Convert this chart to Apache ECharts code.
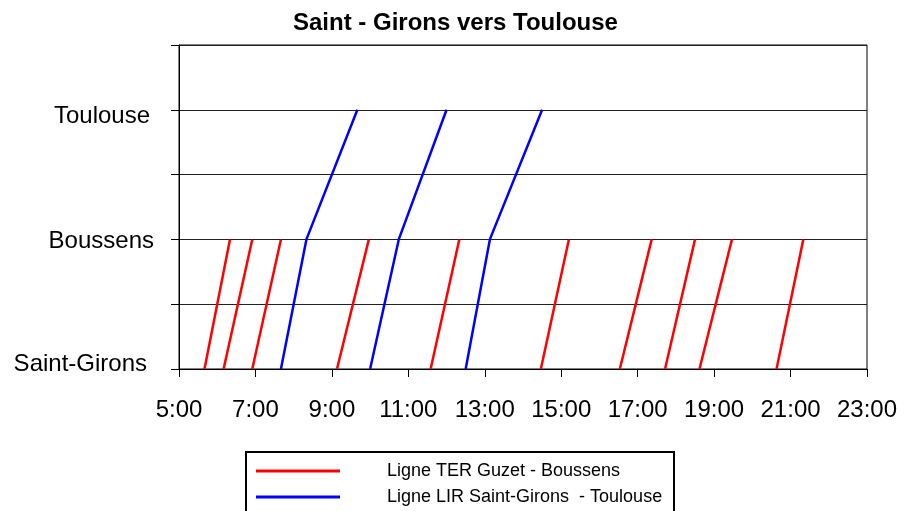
<!DOCTYPE html>
<html>
<head>
<meta charset="utf-8">
<script src="https://cdn.jsdelivr.net/npm/echarts@6/dist/echarts.min.js"></script>
<style>html,body{margin:0;padding:0;background:#fff}#c{width:905px;height:511px}</style>
</head>
<body>
<div id="c"></div>
<script>
var stations = ['Saint-Girons', 'Boussens', 'Toulouse'];
var xTickLabels = ['5:00','7:00','9:00','11:00','13:00','15:00','17:00','19:00','21:00','23:00'];
var redName = 'Ligne TER Guzet - Boussens';
var blueName = 'Ligne LIR Saint-Girons  - Toulouse';
// TER trips: departure Saint-Girons, arrival Boussens
var redTrips = [
  ['5:40','6:20'], ['6:10','6:55'], ['6:55','7:40'], ['9:08','9:58'], ['11:35','12:20'],
  ['14:28','15:12'], ['16:32','17:22'], ['17:43','18:30'], ['18:37','19:28'], ['20:38','21:20']
];
// LIR trips: Saint-Girons, Boussens, Toulouse
var blueTrips = [
  ['7:40','8:20','9:40'], ['10:00','10:45','12:00'], ['12:30','13:08','14:30']
];

function h(t){ var p = t.split(':'); return +p[0] + (+p[1])/60; }
var font = "'Liberation Sans', Arial, sans-serif";
var series = [];
redTrips.forEach(function(tr){
  series.push({ name: redName, type: 'line', symbol: 'none', animation: false,
    lineStyle: { color: '#ff0000', width: 2.5 }, itemStyle: { color: '#ff0000' },
    data: tr.map(function(t, i){ return [h(t), i]; }) });
});
blueTrips.forEach(function(tr){
  series.push({ name: blueName, type: 'line', symbol: 'none', animation: false,
    lineStyle: { color: '#0000ff', width: 2.5 }, itemStyle: { color: '#0000ff' },
    data: tr.map(function(t, i){ return [h(t), i]; }) });
});

var labelStyleKeys = ['s0', 's1', 's2'];

var chart = echarts.init(document.getElementById('c'), null, { renderer: 'canvas' });
chart.setOption({
  animation: false,
  backgroundColor: '#fff',
  title: { text: 'Saint - Girons vers Toulouse', left: 288, top: 6,
    textStyle: { fontFamily: font, fontSize: 24, fontWeight: 'bold', color: '#000' } },
  grid: { left: 179, right: 38, top: 45, bottom: 142, show: true, borderColor: '#000', borderWidth: 1 },
  legend: {
    left: 246, top: 452, orient: 'vertical', height: 120,
    data: [redName, blueName],
    icon: 'rect', itemWidth: 84, itemHeight: 3, itemGap: 8,
    borderColor: '#000', borderWidth: 2, borderRadius: 0,
    padding: [10, 10, 8, 10],
    textStyle: { fontFamily: font, fontSize: 18, color: '#000', lineHeight: 18, padding: [0, 0, 0, 42], width: 277 }
  },
  xAxis: {
    type: 'value', min: 5, max: 23, interval: 2,
    axisLine: { show: true, lineStyle: { color: '#000', width: 1 } },
    axisTick: { show: true, length: 8, lineStyle: { color: '#000' } },
    splitLine: { show: false },
    axisLabel: { margin: 29, fontFamily: font, fontSize: 24, color: '#000',
      formatter: function(v){ return xTickLabels[Math.round((v - 5) / 2)] || ''; } }
  },
  yAxis: {
    type: 'value', min: 0, max: 2.5, interval: 0.5,
    axisLine: { show: true, lineStyle: { color: '#000', width: 1 } },
    axisTick: { show: true, length: 8, lineStyle: { color: '#000' } },
    splitLine: { show: true, lineStyle: { color: '#222', width: 1 } },
    axisLabel: { margin: 25, fontFamily: font, fontSize: 24, color: '#000',
      formatter: function(v){
        var i = Math.round(v);
        if (Math.abs(v - i) > 1e-6 || !stations[i]) return '';
        return '{' + labelStyleKeys[i] + '|' + stations[i] + '}';
      },
      rich: {
        s0: { fontFamily: font, fontSize: 24, color: '#000', padding: [0, 7, 10, 0] },
        s1: { fontFamily: font, fontSize: 24, color: '#000', padding: [3, 0, 0, 0] },
        s2: { fontFamily: font, fontSize: 24, color: '#000', padding: [13, 4, 0, 0] }
      }
    }
  },
  series: series
});
</script>
</body>
</html>
